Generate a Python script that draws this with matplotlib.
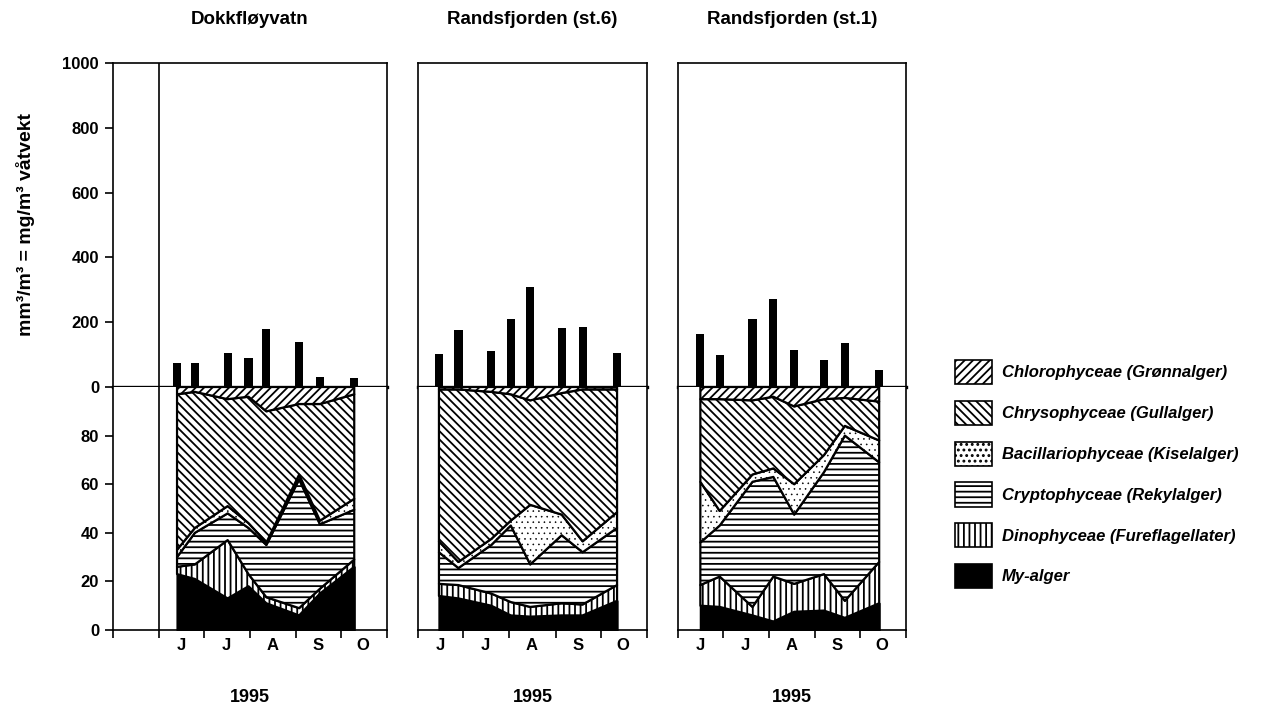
import numpy as np
import pandas as pd
import matplotlib
matplotlib.use('Agg')
import matplotlib.pyplot as plt
import matplotlib.dates as mdates
from matplotlib.patches import Patch
from matplotlib.ticker import FixedLocator, FixedFormatter, NullFormatter

plt.rcParams['font.family'] = ['Liberation Sans', 'DejaVu Sans']
plt.rcParams['font.weight'] = 'bold'
plt.rcParams['hatch.linewidth'] = 1.3

# station titles and month labels
titles = ['Dokkfløyvatn', 'Randsfjorden (st.6)', 'Randsfjorden (st.1)']
month_labels = ['J', 'J', 'A', 'S', 'O']
year_label = '1995'

# Dokkfløyvatn
dokk_dates = ['1995-06-13', '1995-06-25', '1995-07-17', '1995-07-31',
              '1995-08-12', '1995-09-03', '1995-09-17', '1995-10-10']
dokk_total = [73, 73, 104, 89, 179, 140, 32, 27]
dokk_my = [23, 21, 13, 18, 11, 6, 15, 26]
dokk_dino = [3, 6, 24, 5, 2.5, 3, 2, 3]
dokk_crypto = [4, 13, 11, 19, 21.5, 53, 26.5, 20.5]
dokk_bacil = [3, 2, 3, 2, 1, 2, 1.5, 4.5]
dokk_chryso = [64, 56, 44, 52, 54, 29, 48, 43]
dokk_chloro = [3, 2, 5, 4, 10, 7, 7, 3]

# Randsfjorden st.6
st6_dates = ['1995-06-15', '1995-06-28', '1995-07-20', '1995-08-02',
             '1995-08-15', '1995-09-05', '1995-09-19', '1995-10-12']
st6_total = [102, 176, 111, 211, 308, 181, 186, 104]
st6_my = [14, 13, 10, 6, 5.5, 6, 6, 12]
st6_dino = [5, 5.5, 5, 5.5, 4, 5, 4.5, 6.5]
st6_crypto = [13, 7, 20, 31.5, 17.5, 28, 21.5, 23.5]
st6_bacil = [4.5, 2.5, 2.5, 2, 24.5, 8.5, 4.5, 6.5]
st6_chryso = [62.5, 71, 60.5, 52, 43, 50, 62.5, 50.5]
st6_chloro = [1, 1, 2, 3, 5.5, 2.5, 1, 1]

# Randsfjorden st.1
st1_dates = ['1995-06-16', '1995-06-29', '1995-07-21', '1995-08-04',
             '1995-08-18', '1995-09-07', '1995-09-21', '1995-10-14']
st1_total = [164, 99, 211, 271, 113, 82, 137, 52]
st1_my = [10, 9.5, 6, 3.5, 7.5, 8, 5, 11]
st1_dino = [8.5, 12.5, 3.5, 18.5, 11.5, 15, 7, 17]
st1_crypto = [17.5, 21, 51.5, 41, 28.5, 42, 68, 41]
st1_bacil = [25, 6, 3, 3.5, 12.5, 7, 4, 9]
st1_chryso = [34, 46, 30.5, 29.5, 32, 23, 11.5, 16]
st1_chloro = [5, 5, 5.5, 4, 8, 5, 4.5, 6]

# groups, bottom to top of the stack
group_names = ['My-alger', 'Dinophyceae (Fureflagellater)', 'Cryptophyceae (Rekylalger)',
               'Bacillariophyceae (Kiselalger)', 'Chrysophyceae (Gullalger)',
               'Chlorophyceae (Grønnalger)']
group_hatch = [None, '|||', '---', '...', '\\\\\\\\', '////']
group_face = ['black', 'white', 'white', 'white', 'white', 'white']
group_hatch_lw = [1.3, 1.3, 1.3, 0.4, 1.3, 1.3]

stations = [
    (dokk_dates, dokk_total, [dokk_my, dokk_dino, dokk_crypto, dokk_bacil, dokk_chryso, dokk_chloro]),
    (st6_dates, st6_total, [st6_my, st6_dino, st6_crypto, st6_bacil, st6_chryso, st6_chloro]),
    (st1_dates, st1_total, [st1_my, st1_dino, st1_crypto, st1_bacil, st1_chryso, st1_chloro]),
]

# panel extents in pixels (left, right) and first date on the axis
W, H = 1270, 715
panels = [(113, 387, '1995-05-01'), (418, 647, '1995-06-01'), (678, 906, '1995-06-01')]
y_top, y_zero, y_bot = 63, 387, 630

fig = plt.figure(figsize=(W / 100, H / 100), dpi=100)

month_starts = pd.date_range('1995-05-01', '1995-11-01', freq='MS')
label_pos = mdates.date2num(pd.date_range('1995-06-01', periods=5, freq='MS') + pd.Timedelta(days=15))
jun1 = mdates.date2num(pd.Timestamp('1995-06-01'))

for i, (dates, total, parts) in enumerate(stations):
    xl, xr, start = panels[i]
    x0 = mdates.date2num(pd.Timestamp(start))
    x1 = mdates.date2num(pd.Timestamp('1995-11-01'))
    ax_t = fig.add_axes([xl / W, 1 - y_zero / H, (xr - xl) / W, (y_zero - y_top) / H])
    ax_b = fig.add_axes([xl / W, 1 - y_bot / H, (xr - xl) / W, (y_bot - y_zero) / H])
    x = mdates.date2num(pd.to_datetime(dates))

    # total biomass bars
    ax_t.bar(x, total, width=5.5, color='black', zorder=3)
    ax_t.set_ylim(0, 1000)
    ax_t.set_xlim(x0, x1)

    # percentage composition, stacked
    base = np.zeros(len(x))
    for vals, hatch, face, hlw in zip(parts, group_hatch, group_face, group_hatch_lw):
        top = base + np.array(vals, dtype=float)
        with plt.rc_context({'hatch.linewidth': hlw}):
            ax_b.fill_between(x, base, top, facecolor=face, edgecolor='black',
                              hatch=hatch, linewidth=1.6, zorder=2)
        base = top
    ax_b.set_ylim(0, 100)
    ax_b.set_xlim(x0, x1)

    for ax in (ax_t, ax_b):
        for s in ax.spines.values():
            s.set_linewidth(1.2)
    ax_t.spines['bottom'].set_linewidth(2.4)
    ax_t.spines['bottom'].set_zorder(4)
    ax_b.spines['top'].set_visible(False)

    ax_t.set_xticks([])
    ax_b.set_xticks(mdates.date2num(month_starts[month_starts >= pd.Timestamp(start)]))
    ax_b.xaxis.set_major_formatter(NullFormatter())
    ax_b.xaxis.set_minor_locator(FixedLocator(label_pos))
    ax_b.xaxis.set_minor_formatter(FixedFormatter(month_labels))
    ax_b.tick_params(axis='x', which='major', direction='out', length=6, width=1.2)
    ax_b.tick_params(axis='x', which='minor', length=0, pad=6, labelsize=12)

    if i == 0:
        ax_t.axvline(jun1, color='black', lw=1.2)
        ax_b.axvline(jun1, color='black', lw=1.2)
        ax_t.set_yticks(range(0, 1001, 200))
        ax_b.set_yticks(range(0, 81, 20))
        for ax in (ax_t, ax_b):
            ax.tick_params(axis='y', direction='out', length=6, width=1.2, labelsize=12, pad=4)
        ax_t.set_ylabel('mm³/m³ = mg/m³ våtvekt', fontsize=14, fontweight='bold', labelpad=20)
    else:
        ax_t.set_yticks([])
        ax_b.set_yticks([])

    ax_t.set_title(titles[i], fontsize=13.5, fontweight='bold', pad=28)
    ax_b.set_xlabel(year_label, fontsize=13, fontweight='bold', labelpad=26)

handles = []
for f, h, hlw in zip(group_face, group_hatch, group_hatch_lw):
    with plt.rc_context({'hatch.linewidth': hlw}):
        handles.append(Patch(facecolor=f, edgecolor='black', hatch=h, linewidth=1.2))
fig.legend(handles[::-1], group_names[::-1], loc='upper left',
           bbox_to_anchor=(955 / W, 1 - 360 / H), frameon=False,
           prop={'size': 12, 'weight': 'bold', 'style': 'italic'},
           handlelength=2.2, handleheight=1.85, labelspacing=1.0,
           handletextpad=0.6, borderpad=0, borderaxespad=0)

fig.savefig('out.png', dpi=100)
